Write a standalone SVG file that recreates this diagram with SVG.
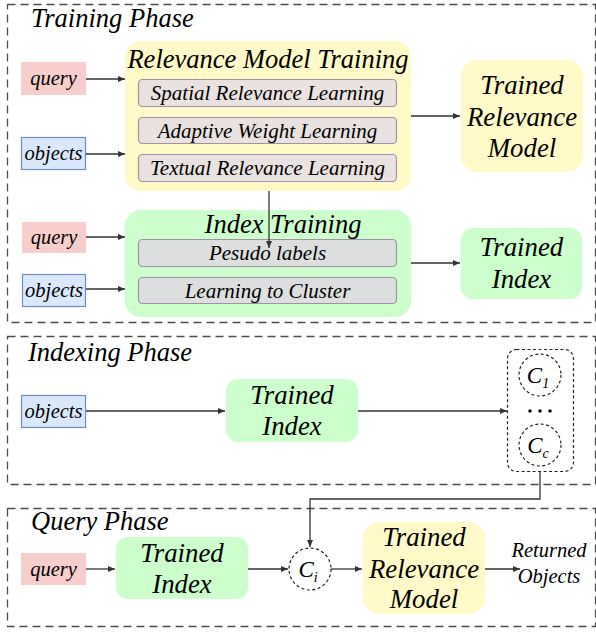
<svg xmlns="http://www.w3.org/2000/svg" width="596" height="633" viewBox="0 0 596 633">
<defs>
<style>
text{font-family:"Liberation Serif","Times New Roman",serif;font-style:italic;fill:#000;text-anchor:middle}
.phase{fill:none;stroke:#4d4d4d;stroke-width:1.3;stroke-dasharray:8 5}
.ttl{font-size:26.5px}
.big{font-size:26.8px}
.sm{font-size:20.5px}
.sb{font-size:21px}
.q{fill:#f8cecc}
.o{fill:#dae8fc;stroke:#6c8ebf;stroke-width:1.2}
.y{fill:#fffac8}
.g{fill:#ccffcc}
.sub1{fill:#eae2e0;stroke:#a090a8;stroke-width:1.2}
.sub2{fill:#dcdfde;stroke:#a090a8;stroke-width:1.2}
.dot{fill:none;stroke:#222;stroke-width:1.2;stroke-dasharray:3 2.5}
.edge{fill:none;stroke:#333;stroke-width:1.3;marker-end:url(#ah)}
</style>
<marker id="ah" markerWidth="8" markerHeight="8" refX="7" refY="4" orient="auto" markerUnits="userSpaceOnUse">
<path d="M0,1 L7,4 L0,7 Z" fill="#333"/>
</marker>
</defs>

<g id="phases">
<rect class="phase" x="7.5" y="4.5" width="588" height="318"/>
<rect class="phase" x="7.5" y="336.5" width="588" height="148"/>
<rect class="phase" x="7.5" y="508.5" width="588" height="118"/>
<text class="ttl" x="31" y="27" style="text-anchor:start">Training Phase</text>
<text class="ttl" x="28" y="361" style="text-anchor:start">Indexing Phase</text>
<text class="ttl" x="31" y="530" style="text-anchor:start">Query Phase</text>
</g>

<g id="tr-query1"><rect class="q" x="21" y="62" width="65" height="33"/><text class="sm" x="53.5" y="85">query</text></g>
<g id="tr-objects1"><rect class="o" x="21.5" y="137.5" width="64" height="32"/><text class="sm" x="53.5" y="160">objects</text></g>

<g id="rel-training">
<rect class="y" x="125" y="41" width="286" height="150" rx="16"/>
<text class="ttl" x="268" y="68">Relevance Model Training</text>
<rect class="sub1" x="138.5" y="79.5" width="258" height="27" rx="4"/>
<text class="sb" x="267.5" y="100">Spatial Relevance Learning</text>
<rect class="sub1" x="138.5" y="117.5" width="258" height="26" rx="4"/>
<text class="sb" x="267.5" y="138">Adaptive Weight Learning</text>
<rect class="sub1" x="138.5" y="154.5" width="258" height="27" rx="4"/>
<text class="sb" x="267.5" y="175">Textual Relevance Learning</text>
</g>

<g id="trained-rel1">
<rect class="y" x="461" y="60" width="122" height="112" rx="16"/>
<text class="big" x="522" y="94">Trained</text>
<text class="big" x="522" y="126">Relevance</text>
<text class="big" x="522" y="157">Model</text>
</g>

<g id="tr-query2"><rect class="q" x="22" y="222" width="64" height="31"/><text class="sm" x="54" y="244">query</text></g>
<g id="tr-objects2"><rect class="o" x="22.5" y="274.5" width="63" height="32"/><text class="sm" x="54" y="297">objects</text></g>

<g id="index-training">
<rect class="g" x="125" y="210" width="286" height="107" rx="16"/>
<text class="ttl" x="283" y="233">Index Training</text>
<rect class="sub2" x="138.5" y="239.5" width="258" height="27" rx="4"/>
<text class="sb" x="267.5" y="260">Pesudo labels</text>
<rect class="sub2" x="138.5" y="277.5" width="258" height="26" rx="4"/>
<text class="sb" x="267.5" y="298">Learning to Cluster</text>
</g>

<g id="trained-index1">
<rect class="g" x="461" y="228" width="121" height="71" rx="12"/>
<text class="big" x="521.5" y="256">Trained</text>
<text class="big" x="521.5" y="288">Index</text>
</g>

<g id="ix-objects"><rect class="o" x="21.5" y="395.5" width="64" height="32"/><text class="sm" x="53.5" y="418">objects</text></g>

<g id="trained-index2">
<rect class="g" x="226" y="379" width="132" height="63" rx="12"/>
<text class="big" x="292" y="404">Trained</text>
<text class="big" x="292" y="435">Index</text>
</g>

<g id="clusters">
<rect class="dot" x="507.5" y="349.5" width="66" height="122" rx="9"/>
<circle class="dot" cx="540" cy="375" r="21"/>
<text x="538" y="383" style="font-size:23px">C<tspan style="font-size:14px" dy="5">1</tspan></text>
<circle cx="530" cy="411" r="1.8" fill="#111"/>
<circle cx="540" cy="411" r="1.8" fill="#111"/>
<circle cx="550" cy="411" r="1.8" fill="#111"/>
<circle class="dot" cx="540" cy="445" r="21"/>
<text x="538" y="453" style="font-size:23px">C<tspan style="font-size:14px" dy="5">c</tspan></text>
</g>

<g id="qp-query"><rect class="q" x="21" y="553" width="65" height="32"/><text class="sm" x="53.5" y="576">query</text></g>

<g id="trained-index3">
<rect class="g" x="116" y="537" width="132" height="62" rx="12"/>
<text class="big" x="182" y="562">Trained</text>
<text class="big" x="182" y="593">Index</text>
</g>

<g id="ci">
<circle class="dot" cx="310" cy="569" r="21"/>
<text x="308" y="577" style="font-size:23px">C<tspan style="font-size:14px" dy="5">i</tspan></text>
</g>

<g id="trained-rel2">
<rect class="y" x="363" y="522" width="122" height="92" rx="16"/>
<text class="big" x="424" y="546">Trained</text>
<text class="big" x="424" y="578">Relevance</text>
<text class="big" x="424" y="608">Model</text>
</g>

<g id="returned">
<text class="sm" x="549" y="557">Returned</text>
<text class="sm" x="549" y="583">Objects</text>
</g>

<g id="connectors">
<path class="edge" d="M86,79 H125"/>
<path class="edge" d="M86,154 H125"/>
<path class="edge" d="M411,116 H460"/>
<path class="edge" d="M269,191 V248"/>
<path class="edge" d="M86,237 H125"/>
<path class="edge" d="M86,289 H125"/>
<path class="edge" d="M411,263 H460"/>
<path class="edge" d="M86,411 H225"/>
<path class="edge" d="M358,411 H507"/>
<path class="edge" d="M540,472 V499 H310 V547"/>
<path class="edge" d="M86,569 H115"/>
<path class="edge" d="M248,569 H288"/>
<path class="edge" d="M331,569 H362"/>
<path class="edge" d="M485,569 H520"/>
</g>
</svg>
